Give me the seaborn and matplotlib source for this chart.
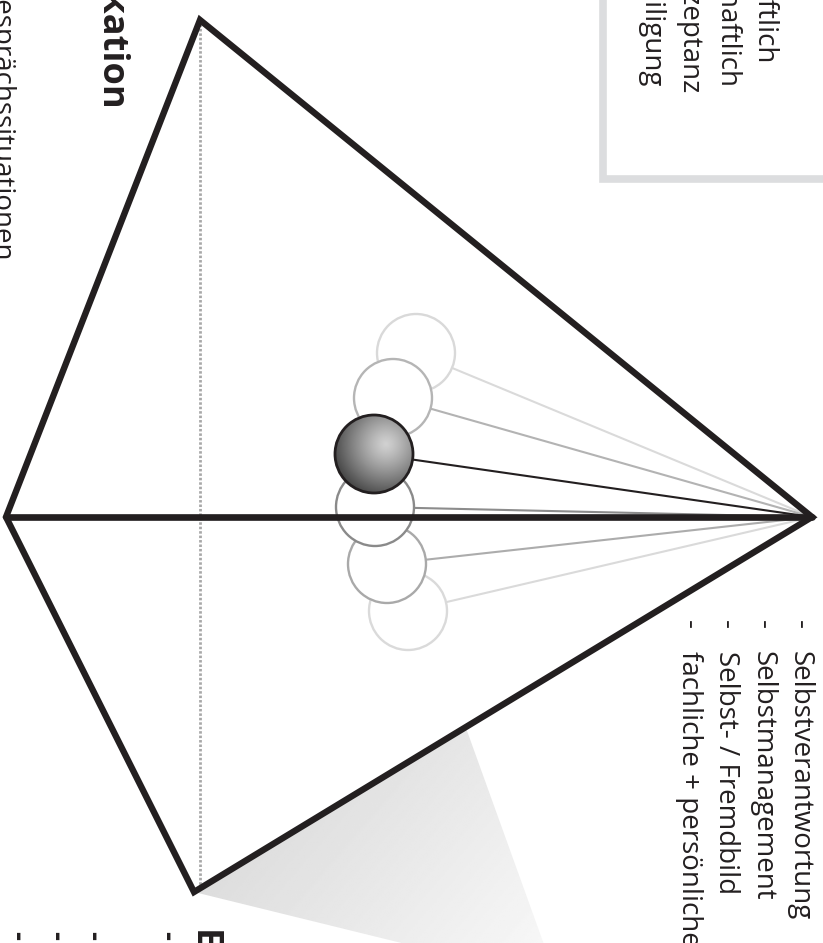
import numpy as np
import pandas as pd
import matplotlib
matplotlib.use("Agg")
import matplotlib.pyplot as plt
import seaborn as sns
from matplotlib.patches import Polygon, Circle, Rectangle

# ==========================================
# data (pixel space of the 823x943 canvas)
# ==========================================
KITE_X = [6, 200, 812, 194]
KITE_Y = [517, 20, 517, 892]
PIVOT = (812, 517)

BALL_X = [416, 393, 374, 375, 387, 408]
BALL_Y = [353, 398, 454, 507, 564, 611]
BALL_EDGE = ["#d9d9d9", "#b5b5b5", "#231f20", "#8a8a8a", "#a9a9a9", "#dadada"]
STRING_COLOR = ["#dadada", "#b3b3b3", "#231f20", "#8c8c8c", "#acacac", "#dadada"]
BALL_Z = [2, 3, 5, 3, 2, 1]
ACTIVE_BALL = 2
BALL_R = 39

WEDGE_X = [194, 466, 546, 430]
WEDGE_Y = [892, 728, 950, 950]

RIGHT_ITEMS = ["Selbstverantwortung", "Selbstmanagement", "Selbst- / Fremdbild",
               "fachliche + persönliche Kompetenzen"]
RIGHT_BASE = [793, 756, 719, 682]

BOX_ITEMS = ["- wirtschaftlich", "- gesellschaftlich", "- Akzeptanz", "- Beteiligung"]
BOX_BASE = [758, 721, 683, 645]
BOX_END = [62, 86, 92, 85]

BOTTOM_DASH_X = [9, 48, 85, 159]

INK = "#231f20"

# ==========================================
# style
# ==========================================
sns.set_theme(style="white")
plt.rcParams['font.family'] = ['Open Sans', 'DejaVu Sans']

fig = plt.figure(figsize=(8.23, 9.43), dpi=100)
ax = fig.add_axes([0, 0, 1, 1])
ax.set_xlim(0, 823)
ax.set_ylim(943, 0)
ax.axis('off')

# grey wedge with soft gradient
wedge = Polygon(list(zip(WEDGE_X, WEDGE_Y)), closed=True, facecolor='none', edgecolor='none')
ax.add_patch(wedge)
gx, gy = np.meshgrid(np.linspace(180, 560, 200), np.linspace(700, 960, 200))
t = ((gx - 194) * 0.75 + (gy - 892) * 0.65) / 260
grad = np.clip(0.865 + 0.09 * t, 0.865, 0.965)
im = ax.imshow(grad, cmap='gray', vmin=0, vmax=1, extent=(180, 560, 960, 700),
               origin='upper', aspect='auto', zorder=0.5, interpolation='bilinear')
im.set_clip_path(wedge)

# info box in the corner
ax.add_patch(Rectangle((603, -30), 260, 209, facecolor='white', edgecolor='#dcdddf',
                       linewidth=5.5, zorder=0.6))

# dotted centre line
sns.lineplot(x=[KITE_X[1], KITE_X[3] + 6], y=[KITE_Y[1] + 4, KITE_Y[3] - 6], sort=False,
             estimator=None, color='#a8a8a8', linewidth=2.0, linestyle=(0, (0.9, 0.7)),
             ax=ax, zorder=0.7)

# kite outline
ax.add_patch(Polygon(list(zip(KITE_X, KITE_Y)), closed=True, fill=False, edgecolor=INK,
                     linewidth=4.6, joinstyle='miter', zorder=6))

# pendulum strings
rows = []
for i, (bx, by) in enumerate(zip(BALL_X, BALL_Y)):
    rows.append({'ball': i, 'x': PIVOT[0], 'y': PIVOT[1]})
    rows.append({'ball': i, 'x': bx, 'y': by})
strings = pd.DataFrame(rows)
sns.lineplot(data=strings, x='x', y='y', hue='ball', units='ball', estimator=None,
             sort=False, palette=STRING_COLOR, linewidth=1.5, legend=False, ax=ax, zorder=0.8)

# balls
for i, (bx, by) in enumerate(zip(BALL_X, BALL_Y)):
    if i == ACTIVE_BALL:
        disc = Circle((bx, by), BALL_R, facecolor='none', edgecolor=INK, linewidth=2.0,
                      zorder=BALL_Z[i] + 0.1)
        ax.add_patch(disc)
        cx, cy = np.meshgrid(np.linspace(bx - BALL_R, bx + BALL_R, 160),
                             np.linspace(by - BALL_R, by + BALL_R, 160))
        d = np.hypot(cx - (bx + 12), cy - (by - 10)) / (BALL_R * 1.5)
        shade = np.clip(0.82 - 0.6 * d ** 1.2, 0.22, 0.9)
        bim = ax.imshow(shade, cmap='gray', vmin=0, vmax=1,
                        extent=(bx - BALL_R, bx + BALL_R, by + BALL_R, by - BALL_R),
                        origin='upper', aspect='auto', zorder=BALL_Z[i], interpolation='bilinear')
        bim.set_clip_path(disc)
    else:
        ax.add_patch(Circle((bx, by), BALL_R, facecolor='white', edgecolor=BALL_EDGE[i],
                            linewidth=1.7, zorder=BALL_Z[i]))

# horizontal axis of the kite, on top of the balls
sns.lineplot(x=[KITE_X[0], KITE_X[2]], y=[KITE_Y[0], KITE_Y[2]], sort=False, estimator=None,
             color=INK, linewidth=4.8, ax=ax, zorder=6)
ax.set_xlim(0, 823)
ax.set_ylim(943, 0)
ax.set_xlabel('')
ax.set_ylabel('')

# ==========================================
# texts (rotated, read top to bottom)
# ==========================================
def vtext(x, y, s, end=False, **kw):
    ax.text(x, y, s, rotation=-90, rotation_mode='anchor', ha='right' if end else 'left',
            va='baseline', color=INK, zorder=8, **kw)

vtext(100, 112, "Kommunikation", end=True, fontsize=26, fontweight='bold')
vtext(-7, 262, "Gesprächssituationen", end=True, fontsize=20)

for base, item in zip(RIGHT_BASE, RIGHT_ITEMS):
    vtext(base, 620, "-", fontsize=20)
    vtext(base, 651, item, fontsize=20)

for base, end, item in zip(BOX_BASE, BOX_END, BOX_ITEMS):
    vtext(base, end, item, end=True, fontsize=20)

vtext(194, 930, "Eigenverantwortung", fontsize=26, fontweight='bold')
for x in BOTTOM_DASH_X:
    vtext(x, 931, "-", fontsize=20, fontweight='bold')

fig.savefig('out.png', dpi=100)
